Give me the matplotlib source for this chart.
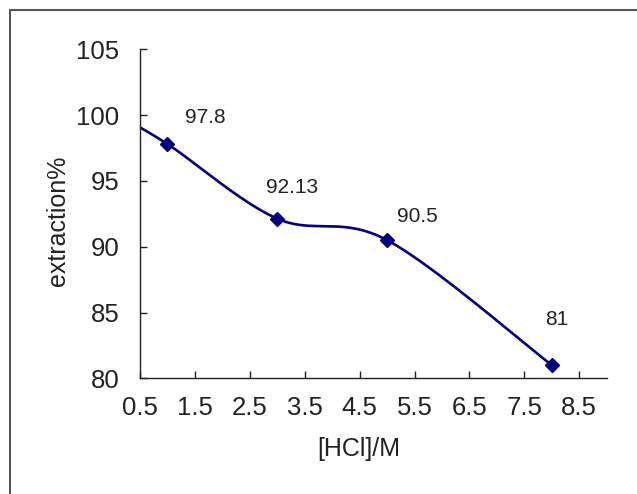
import numpy as np
import matplotlib
matplotlib.use("Agg")
import matplotlib.pyplot as plt
from matplotlib.lines import Line2D

# Data (first point lies left of the visible x range; only its curve shows)
hcl = [0.0, 1.0, 3.0, 5.0, 8.0]
extraction = [100.2, 97.8, 92.13, 90.5, 81.0]
label_texts = ["", "97.8", "92.13", "90.5", "81"]
label_offsets = [(0, 0), (38, 26.5), (14.5, 31), (30, 24), (4.5, 45.5)]  # pixels
xticks = [0.5, 1.5, 2.5, 3.5, 4.5, 5.5, 6.5, 7.5, 8.5]
yticks = [80, 85, 90, 95, 100, 105]

plt.rcParams['font.family'] = ['Liberation Sans', 'DejaVu Sans']

def excel_smooth(xs, ys, n=60):
    P = np.column_stack([xs, ys]).astype(float)
    m = len(P)
    out = []
    for i in range(m - 1):
        p0 = P[i - 1] if i > 0 else P[i]
        p1 = P[i]
        p2 = P[i + 1]
        p3 = P[i + 2] if i + 2 < m else P[i + 1]
        c1 = p1 + (p2 - p0) / 6.0
        c2 = p2 - (p3 - p1) / 6.0
        t = np.linspace(0, 1, n)[:, None]
        seg = ((1 - t) ** 3) * p1 + 3 * ((1 - t) ** 2) * t * c1 + 3 * (1 - t) * t ** 2 * c2 + t ** 3 * p2
        out.append(seg if i == 0 else seg[1:])
    S = np.vstack(out)
    return S[:, 0], S[:, 1]

fig = plt.figure(figsize=(6.37, 4.94), dpi=100)
W, H = 637, 494
x0, x1, ytop, ybot = 140, 606.7, 49.3, 378.3
ax = fig.add_axes([x0 / W, 1 - ybot / H, (x1 - x0) / W, (ybot - ytop) / H])

navy = '#000080'
sx, sy = excel_smooth(hcl, extraction)
ax.plot(sx, sy, color=navy, lw=1.9, solid_capstyle='round')
ax.plot(hcl, extraction, linestyle='none', marker='D', markersize=7.3,
        color=navy, markeredgecolor=navy)

for x, y, t, (dx, dy) in zip(hcl, extraction, label_texts, label_offsets):
    if t:
        ax.annotate(t, (x, y), xytext=(dx, dy), textcoords='offset pixels',
                    ha='center', va='center', fontsize=15, color='#222222')

ax.set_xlim(0.5, 9.0)
ax.set_ylim(80, 105)
ax.set_xticks(xticks)
ax.set_xticklabels([f"{v:.1f}" for v in xticks])
ax.set_yticks(yticks)
ax.set_yticklabels([str(v) for v in yticks])
ax.tick_params(direction='in', length=5, width=1, color='#222222',
               labelsize=18.5, labelcolor='#222222')
ax.tick_params(axis='y', pad=15)
ax.tick_params(axis='x', pad=13)
for s in ['top', 'right']:
    ax.spines[s].set_visible(False)
for s in ['left', 'bottom']:
    ax.spines[s].set_color('#222222')
    ax.spines[s].set_linewidth(1)

ax.set_xlabel('[HCl]/M', fontsize=18, color='#222222')
ax.set_ylabel('extraction%', fontsize=18, color='#222222')
ax.xaxis.set_label_coords((359 - x0) / (x1 - x0), -(437 - ybot) / (ybot - ytop))
ax.yaxis.label.set_va('center')
ax.yaxis.set_label_coords(-(x0 - 58) / (x1 - x0), (ybot - 221) / (ybot - ytop))

# chart-area border (left and top edges visible)
fig.add_artist(Line2D([10 / W, 10 / W], [0, 1 - 10 / H], transform=fig.transFigure,
                      color='#333333', lw=1.2))
fig.add_artist(Line2D([10 / W, 1], [1 - 10 / H, 1 - 10 / H], transform=fig.transFigure,
                      color='#555555', lw=1.5))

fig.savefig('out.png', dpi=100)
